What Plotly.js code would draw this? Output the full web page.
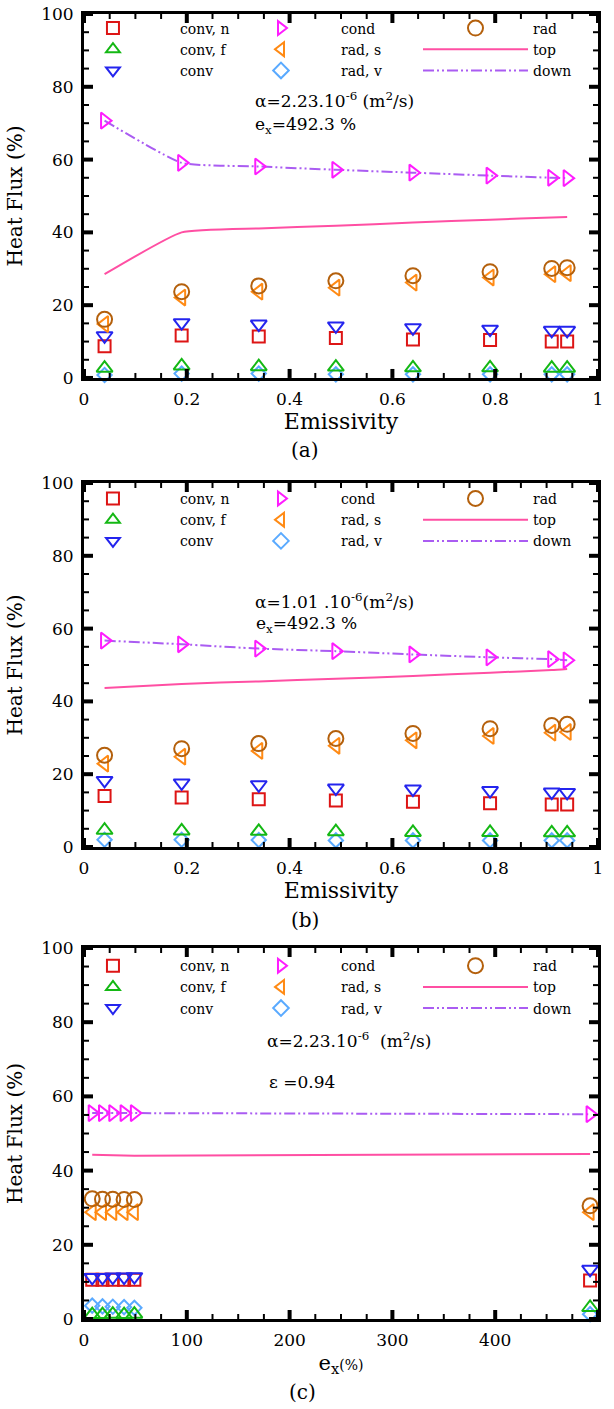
<!DOCTYPE html>
<html><head><meta charset="utf-8">
<script src="https://cdn.plot.ly/plotly-3.0.1.min.js"></script>
<style>body{margin:0;padding:0;background:#fff}</style>
</head><body><div id="chart" style="width:614px;height:1409px"></div>
<script>
// ---------- data ----------
const seriesNames = ['conv, n','conv, f','conv','cond','rad, s','rad, v','rad','top','down'];
const emissivity = [0.04,0.19,0.34,0.49,0.64,0.79,0.91,0.94];
const exValues = [8,18,28,39,49,492.3];
const yTicks = [0,20,40,60,80,100];
const xTicksE = [0,0.2,0.4,0.6,0.8,1];
const xTicksEx = [0,100,200,300,400,500];

// (a) alpha = 2.23e-6, ex = 492.3 %
const convnA = [8.7,11.7,11.4,11.0,10.6,10.4,10.0,10.0];
const convfA = [2.7,3.3,3.1,3.0,2.8,2.8,2.7,2.7];
const convA  = [11.6,15.2,14.8,14.3,13.8,13.4,13.1,13.1];
const condA  = [70.7,59.1,58.1,57.2,56.4,55.6,55.0,54.9];
const radsA  = [14.8,22.1,23.7,24.8,26.2,27.6,28.5,28.8];
const radvA  = [0.8,1.2,1.2,1.0,1.0,1.0,1.0,1.0];
const radA   = [16.1,23.7,25.3,26.7,28.1,29.2,30.1,30.3];
const topA   = [28.5,40.0,41.1,41.8,42.7,43.5,44.1,44.2];
const downA  = [70.7,59.1,58.1,57.2,56.4,55.6,55.0,54.9];

// (b) alpha = 1.01e-6, ex = 492.3 %
const convnB = [14.0,13.6,13.1,12.8,12.4,12.0,11.7,11.7];
const convfB = [4.6,4.4,4.3,4.2,4.0,4.0,3.9,3.9];
const convB  = [18.3,17.6,17.1,16.2,15.9,15.5,15.1,15.0];
const condB  = [56.7,55.7,54.5,53.8,52.9,52.1,51.6,51.3];
const radsB  = [22.9,24.8,26.4,27.8,29.3,30.5,31.4,31.6];
const radvB  = [2.0,2.0,1.9,1.8,1.8,1.8,1.8,1.8];
const radB   = [25.2,27.0,28.4,29.8,31.2,32.5,33.4,33.7];
const topB   = [43.7,44.8,45.5,46.2,47.0,47.9,48.6,48.9];
const downB  = [56.7,55.7,54.5,53.8,52.9,52.1,51.6,51.3];

// (c) alpha = 2.23e-6, emissivity = 0.94
const convnC = [10.6,10.6,10.6,10.6,10.6,10.4];
const convfC = [1.2,1.2,1.3,1.2,1.3,3.1];
const convC  = [11.2,11.2,11.3,11.3,11.4,13.4];
const condC  = [55.5,55.5,55.5,55.5,55.5,55.2];
const radsC  = [28.8,28.8,28.8,28.8,28.8,28.8];
const radvC  = [3.6,3.4,3.3,3.2,3.0,1.3];
const radC   = [32.4,32.3,32.3,32.2,32.2,30.5];
const topC   = [44.3,44.2,44.1,44.0,44.0,44.5];
const downC  = [55.5,55.5,55.5,55.5,55.5,55.2];

// ---------- styles ----------
const FONT = 'DejaVu Serif';
const colors = {
  'conv, n':'#dd1515','conv, f':'#14b814','conv':'#2424ee','cond':'#ff1cff',
  'rad, s':'#ff8a14','rad, v':'#5aaaff','rad':'#b4600c','top':'#ff4fa3','down':'#aa5cf2'
};
const symbols = {
  'conv, n':['square-open',12],'conv, f':['triangle-up-open',14],'conv':['triangle-down-open',14],
  'cond':['triangle-right-open',14],'rad, s':['triangle-left-open',14],'rad, v':['diamond-open',11],
  'rad':['circle-open',15]
};
const legendCol = {'conv, n':0,'conv, f':0,'conv':0,'cond':1,'rad, s':1,'rad, v':1,'rad':2,'top':2,'down':2};
const rank = {'conv, n':1,'conv, f':2,'conv':3,'cond':1,'rad, s':2,'rad, v':3,'rad':1,'top':2,'down':3};

function legendKey(i){ return i === 1 ? 'legend' : 'legend' + i; }

function panelTraces(x, vals, ax, legendBase, smooth){
  const traces = [];
  ['top','down'].forEach(n => {
    traces.push({
      x: x, y: vals[n], name: n, type:'scatter', mode:'lines',
      xaxis: 'x'+ax, yaxis: 'y'+ax,
      line: {color: colors[n], width: 2,
             dash: n==='down' ? '11px,3px,2px,3px,2px,3px' : 'solid',
             shape: smooth ? 'spline' : 'linear', smoothing: smooth || 0},
      legend: legendKey(legendBase + legendCol[n]),
      legendrank: rank[n], hoverinfo:'skip'
    });
  });
  ['rad, v','conv, f','conv, n','conv','rad, s','rad','cond'].forEach(n => {
    traces.push({
      x: x, y: vals[n], name: n, type:'scatter', mode:'markers',
      xaxis: 'x'+ax, yaxis: 'y'+ax,
      marker: {symbol: symbols[n][0], size: symbols[n][1], color: colors[n], line:{width:2, color: colors[n]}},
      legend: legendKey(legendBase + legendCol[n]),
      legendrank: rank[n], hoverinfo:'skip', cliponaxis:false
    });
  });
  return traces;
}

const data = [].concat(
  panelTraces(emissivity, {'conv, n':convnA,'conv, f':convfA,'conv':convA,'cond':condA,'rad, s':radsA,'rad, v':radvA,'rad':radA,'top':topA,'down':downA}, '', 1, 0.45),
  panelTraces(emissivity, {'conv, n':convnB,'conv, f':convfB,'conv':convB,'cond':condB,'rad, s':radsB,'rad, v':radvB,'rad':radB,'top':topB,'down':downB}, '2', 4, 0.45),
  panelTraces(exValues, {'conv, n':convnC,'conv, f':convfC,'conv':convC,'cond':condC,'rad, s':radsC,'rad, v':radvC,'rad':radC,'top':topC,'down':downC}, '3', 7, 0)
);

function axis(ticks, extra){
  return Object.assign({
    showline:true, linewidth:3, linecolor:'#000', mirror:true,
    range:[ticks[0], ticks[ticks.length-1]], dtick: ticks[1]-ticks[0],
    ticks:'', showgrid:false, zeroline:false, ticklabelstandoff:4,
    tickfont:{family:FONT, size:17, color:'#000'}
  }, extra);
}
const yTitle = {text:'Heat Flux (%)', font:{family:FONT, size:20, color:'#000'}, standoff:14};
function yAx(domain, anchor){ return axis(yTicks, {domain:domain, anchor:anchor, title:yTitle}); }
function xAxE(anchor){
  return axis(xTicksE, {domain:[0,1], anchor:anchor,
    title:{text:'Emissivity', font:{family:FONT, size:22, color:'#000'}, standoff:0}});
}

// tick marks on all four sides (major: long & thick, minor: short & thin), placed through the axes
function tickShapes(xa, ya, xTicks, xMinor, yTk, yMinor){
  const shapes = [];
  const add = (isX, v, len, w) => {
    [0, 1].forEach(side => {
      const sgn = side === 0 ? 1 : -1;
      if (isX) shapes.push({type:'line', xref:xa, yref:ya+' domain', x0:v, x1:v,
        ysizemode:'pixel', yanchor:side, y0:0, y1:sgn*len, line:{color:'#000', width:w}, layer:'above'});
      else shapes.push({type:'line', xref:xa+' domain', yref:ya, y0:v, y1:v,
        xsizemode:'pixel', xanchor:side, x0:0, x1:sgn*len, line:{color:'#000', width:w}, layer:'above'});
    });
  };
  const x0 = xTicks[0], x1 = xTicks[xTicks.length-1];
  const nx = Math.round((x1 - x0) / xMinor);
  for (let i = 0; i <= nx; i++) {
    const v = +(x0 + i*xMinor).toFixed(6);
    const major = xTicks.some(t => Math.abs(t - v) < 1e-9);
    add(true, v, major ? 9 : 5, major ? 4 : 2);
  }
  const y0 = yTk[0], y1 = yTk[yTk.length-1];
  const ny = Math.round((y1 - y0) / yMinor);
  for (let i = 0; i <= ny; i++) {
    const v = +(y0 + i*yMinor).toFixed(6);
    const major = yTk.some(t => Math.abs(t - v) < 1e-9);
    add(false, v, major ? 9 : 5, major ? 4 : 2);
  }
  return shapes;
}

const legendCols = [-0.074, 0.2665, 0.6498];
const legendW = [124, 110, 105];
const legendSizing = ['constant','constant','trace'];
const legendTops = [1.0012, 0.6407, 0.2827];
const layout = {
  width:614, height:1409,
  margin:{l:84, r:16, t:14, b:90},
  paper_bgcolor:'#ffffff', plot_bgcolor:'rgba(0,0,0,0)',
  font:{family:FONT, color:'#000'},
  xaxis: xAxE('y'),
  yaxis: yAx([0.7211,1], 'x'),
  xaxis2: xAxE('y2'),
  yaxis2: yAx([0.3617,0.6406], 'x2'),
  xaxis3: axis(xTicksEx, {domain:[0,1], anchor:'y3',
    title:{text:'e<sub>x</sub><span style="font-size:14px">(%)</span>', font:{family:FONT, size:21, color:'#000'}, standoff:6}}),
  yaxis3: yAx([0,0.2843], 'x3'),
  shapes: [].concat(
    tickShapes('x', 'y', xTicksE, 0.05, yTicks, 5),
    tickShapes('x2', 'y2', xTicksE, 0.05, yTicks, 5),
    tickShapes('x3', 'y3', xTicksEx, 25, yTicks, 5)
  ),
  annotations: [
    {text:'α=2.23.10<sup>-6</sup> (m<sup>2</sup>/s)', xref:'x domain', yref:'y domain', x:0.328, y:0.765},
    {text:'e<sub>x</sub>=492.3 %', xref:'x domain', yref:'y domain', x:0.328, y:0.694},
    {text:'α=1.01 .10<sup>-6</sup>(m<sup>2</sup>/s)', xref:'x2 domain', yref:'y2 domain', x:0.328, y:0.676},
    {text:'e<sub>x</sub>=492.3 %', xref:'x2 domain', yref:'y2 domain', x:0.33, y:0.61},
    {text:'α=2.23.10<sup>-6</sup>  (m<sup>2</sup>/s)', xref:'x3 domain', yref:'y3 domain', x:0.352, y:0.752},
    {text:'ε =0.94', xref:'x3 domain', yref:'y3 domain', x:0.356, y:0.639},
    {text:'(a)', xref:'paper', yref:'paper', x:0.43, y:0.6659, xanchor:'center', font:{family:FONT, size:20, color:'#000'}},
    {text:'(b)', xref:'paper', yref:'paper', x:0.43, y:0.3057, xanchor:'center', font:{family:FONT, size:20, color:'#000'}},
    {text:'(c)', xref:'paper', yref:'paper', x:0.425, y:-0.056, xanchor:'center', font:{family:FONT, size:20, color:'#000'}}
  ].map(a => Object.assign({showarrow:false, xanchor:'left', yanchor:'middle', font:{family:FONT, size:17, color:'#000'}}, a))
};
for (let p = 0; p < 3; p++) {
  for (let c = 0; c < 3; c++) {
    layout[legendKey(p*3 + c + 1)] = {x: legendCols[c], y: legendTops[p], xanchor:'left', yanchor:'top',
      itemwidth: legendW[c], itemsizing: legendSizing[c], bgcolor:'rgba(0,0,0,0)', borderwidth:0,
      font:{family:FONT, size:14, color:'#000'}, traceorder:'normal', itemclick:false, itemdoubleclick:false};
  }
}
Plotly.newPlot('chart', data, layout, {displayModeBar:false});
</script></body></html>
